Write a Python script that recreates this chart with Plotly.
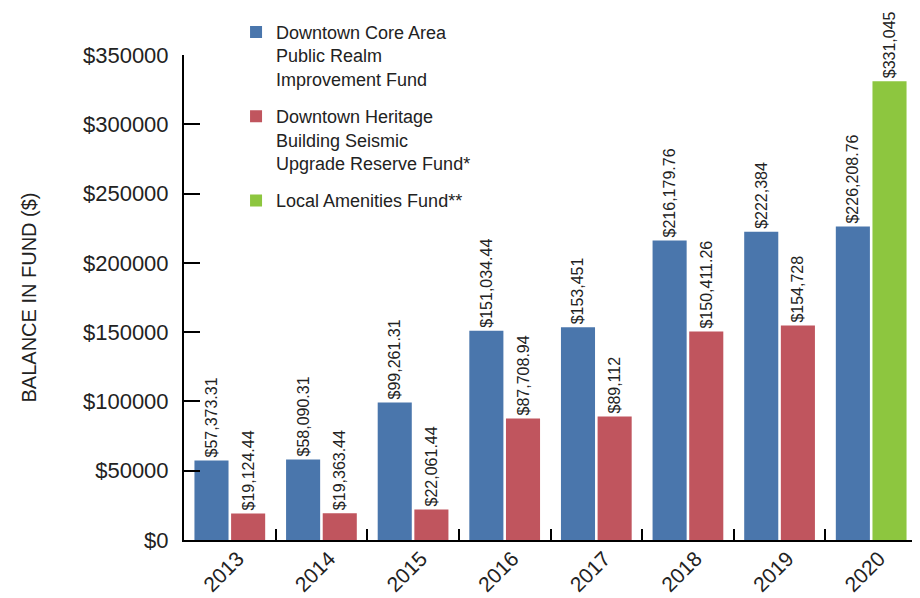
import plotly.graph_objects as go

years = ['2013', '2014', '2015', '2016', '2017', '2018', '2019', '2020']
core_area = [57373.31, 58090.31, 99261.31, 151034.44, 153451, 216179.76, 222384, 226208.76]
heritage_years = ['2013', '2014', '2015', '2016', '2017', '2018', '2019']
heritage = [19124.44, 19363.44, 22061.44, 87708.94, 89112, 150411.26, 154728]
amenities_years = ['2020']
amenities = [331045]

y_ticks = [0, 50000, 100000, 150000, 200000, 250000, 300000, 350000]
y_tick_labels = ['$0', '$50000', '$100000', '$150000', '$200000', '$250000', '$300000', '$350000']


def money(v):
    # keep cents only where the source shows them
    return f"${v:,.2f}" if v % 1 else f"${v:,.0f}"


font_family = 'Liberation Sans, Arial, sans-serif'
text_color = '#222222'

fig = go.Figure()
fig.add_trace(go.Bar(x=years, y=core_area, name='Downtown Core Area<br>Public Realm<br>Improvement Fund',
                     marker_color='#4a76ac', offsetgroup='a', legendgroup='g1',
                     text=[money(v) for v in core_area]))
fig.add_trace(go.Bar(x=heritage_years, y=heritage,
                     name='Downtown Heritage<br>Building Seismic<br>Upgrade Reserve Fund*',
                     marker_color='#c0555e', offsetgroup='b', legendgroup='g2',
                     text=[money(v) for v in heritage]))
fig.add_trace(go.Bar(x=amenities_years, y=amenities, name='Local Amenities Fund**',
                     marker_color='#8dc63f', offsetgroup='b', legendgroup='g3',
                     text=[money(v) for v in amenities]))

fig.update_traces(textposition='outside', textangle=-90, cliponaxis=False,
                  constraintext='none', marker_line_width=0,
                  textfont=dict(size=16, color=text_color, family=font_family))

# page body has an 8px margin, so the figure is sized to fit the window
fig.update_layout(
    width=912, height=590,
    margin=dict(l=176, r=3, t=47, b=58, autoexpand=False),
    barmode='group', bargap=0.2, bargroupgap=0.07,
    plot_bgcolor='white', paper_bgcolor='white',
    font=dict(family=font_family, color=text_color),
    legend=dict(x=0.071, y=1.085, xanchor='left', yanchor='top',
                traceorder='grouped', tracegroupgap=11, valign='top',
                font=dict(size=18, color=text_color), bgcolor='rgba(0,0,0,0)'),
    xaxis=dict(showline=True, linecolor='black', linewidth=2,
               ticks='inside', tickson='boundaries', ticklen=11, tickwidth=2, tickcolor='black',
               tickangle=-45, tickfont=dict(size=21), ticklabelshift=8, ticklabelstandoff=-4,
               showgrid=False, automargin=False),
    yaxis=dict(range=[0, 350000], tickvals=y_ticks, ticktext=y_tick_labels,
               showline=True, linecolor='black', linewidth=2,
               ticks='inside', ticklen=16, tickwidth=2, tickcolor='black',
               ticklabelstandoff=9, tickfont=dict(size=22), showgrid=False, zeroline=False,
               automargin=False,
               title=dict(text='BALANCE IN FUND ($)', font=dict(size=20), standoff=41)),
)

fig.write_html("out.html")
